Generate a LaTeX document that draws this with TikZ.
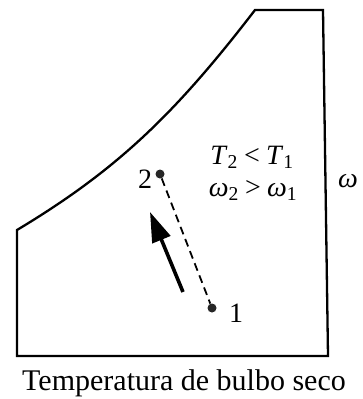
\documentclass[tikz,border=0pt]{standalone}
\usepackage{fontspec}
\setmainfont{Liberation Serif}
\usetikzlibrary{arrows.meta}
\begin{document}
\begin{tikzpicture}[x=1pt,y=-1pt,
  frame/.style={line width=2.3pt, line join=miter},
  dotnode/.style={circle, fill=black!85, inner sep=0pt, minimum size=9pt},
  numlbl/.style={font=\fontsize{28}{32}\selectfont, inner sep=0pt, anchor=base},
  rellbl/.style={font=\fontsize{28}{32}\selectfont, inner sep=0pt, anchor=base},
  axlbl/.style={font=\fontsize{30}{34}\selectfont, inner sep=0pt, anchor=base},
  dashline/.style={dash pattern=on 8pt off 5pt, line width=1.8pt},
  bigarrow/.style={line width=3.6pt, -{Triangle[length=30pt,width=19pt]}}]
\useasboundingbox (0,0) rectangle (362,399);
\draw[frame] (17,356) -- (17,230) .. controls (117,170) and (175,114) .. (255,10) -- (323,10) -- (328,356) -- cycle;
\node[dotnode] (p2) at (160,174) {};
\node[dotnode] (p1) at (212,308) {};
\draw[dashline] (p2) -- (p1);
\node[numlbl] (l2) at (145,188) {2};
\node[numlbl] (l1) at (236,322) {1};
\coordinate (a0) at (183,292);
\coordinate (a1) at (150,212);
\draw[bigarrow] (a0) -- (a1);
\node[rellbl] (c1) at (252,164) {\textit{T}\textsubscript{2}\hspace{0.22em}<\hspace{0.22em}\textit{T}\textsubscript{1}};
\node[rellbl] (c2) at (253,196) {\textit{ω}\textsubscript{2}\hspace{0.22em}>\hspace{0.22em}\textit{ω}\textsubscript{1}};
\node[rellbl] (w) at (348,187) {\textit{ω}};
\node[axlbl] (xl) at (184,390) {Temperatura de bulbo seco};
\end{tikzpicture}
\end{document}
